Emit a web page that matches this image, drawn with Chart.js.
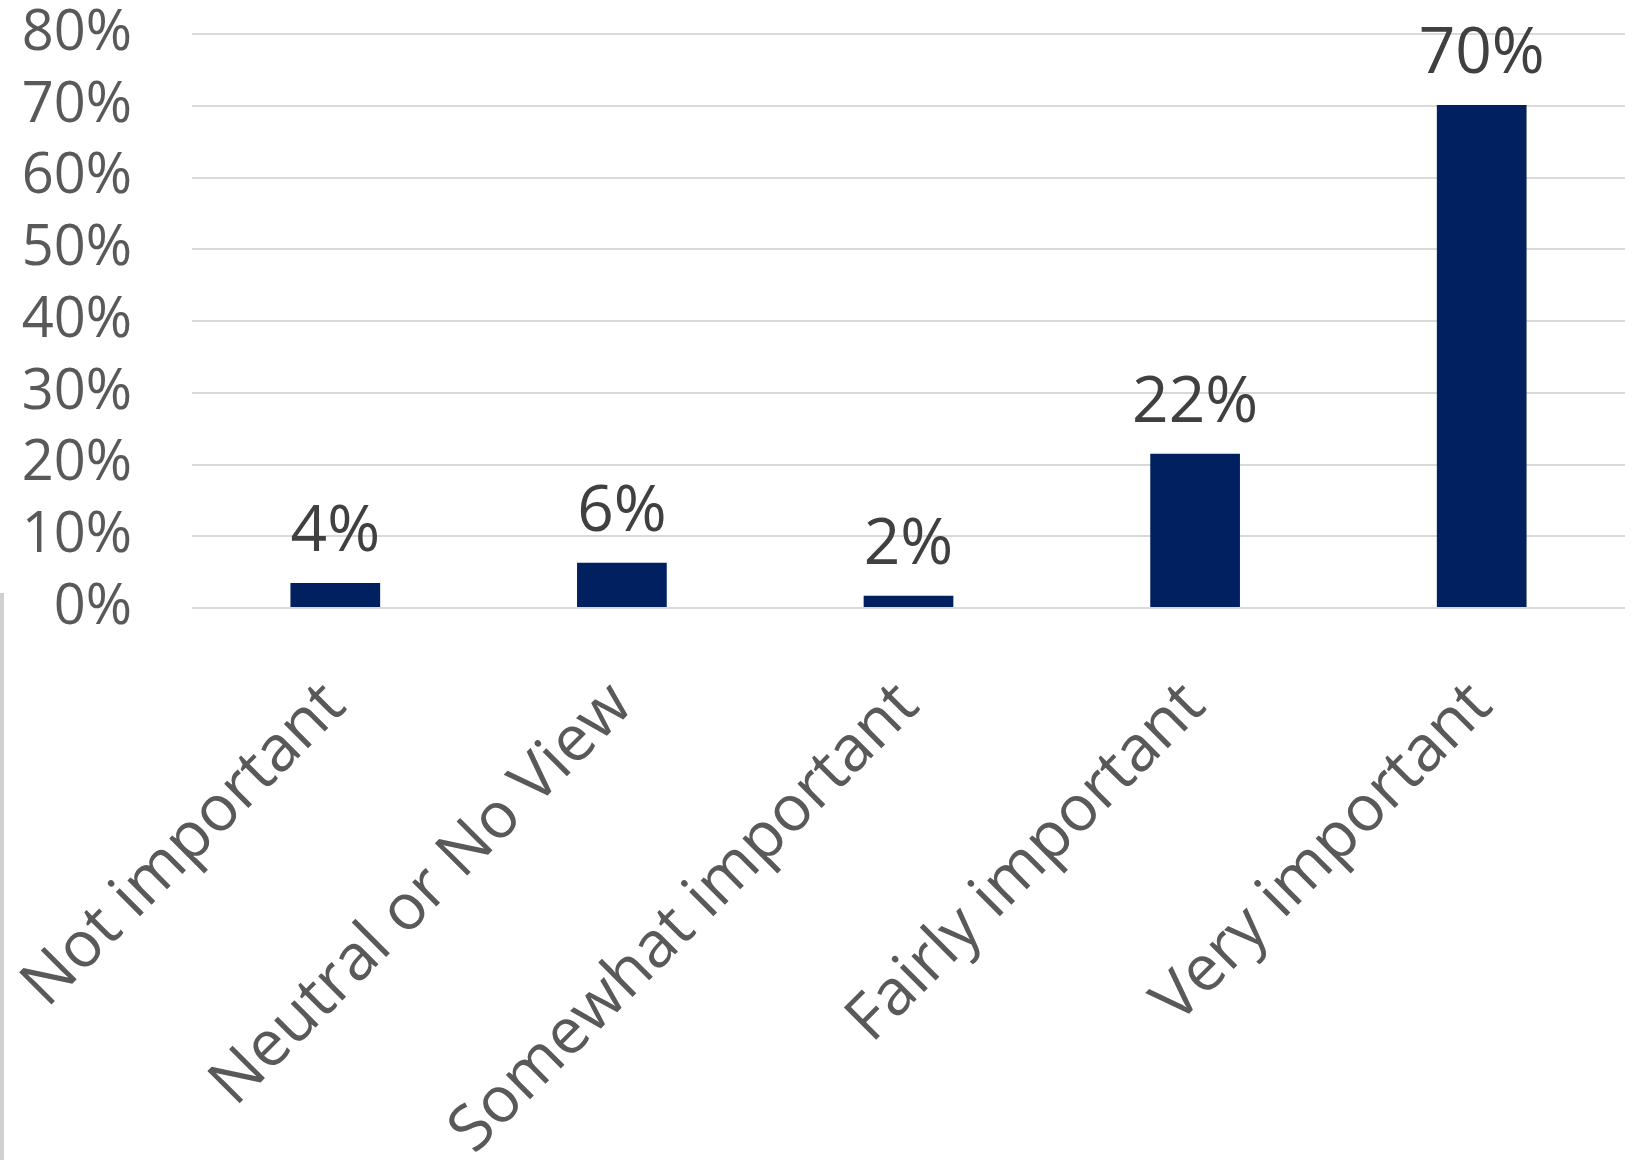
<!DOCTYPE html>
<html>
<head>
<meta charset="utf-8">
<script src="https://cdn.jsdelivr.net/npm/chart.js@4/dist/chart.umd.min.js"></script>
<style>
  html, body { margin: 0; padding: 0; background: #fff; }
  #wrap { position: relative; width: 1637px; height: 1160px; }
  #edge { position: absolute; left: 0; top: 593px; width: 4px; height: 567px; background: #d0d0d0; }
</style>
</head>
<body>
<div id="wrap">
  <canvas id="importanceChart" width="1637" height="1160"></canvas>
  <div id="edge"></div>
</div>
<script>
const categories = ["Not important", "Neutral or No View", "Somewhat important", "Fairly important", "Very important"];
const shares = [3.5, 6.3, 1.7, 21.5, 70.1];
const shareLabels = ["4%", "6%", "2%", "22%", "70%"];
const yTicks = [0, 10, 20, 30, 40, 50, 60, 70, 80];

const FONT = "'Open Sans', 'Liberation Sans', sans-serif";

// draws the percentage above each bar
const barLabels = {
  id: "barLabels",
  afterDatasetsDraw(chart) {
    const ctx = chart.ctx;
    const meta = chart.getDatasetMeta(0);
    ctx.save();
    ctx.font = "64px " + FONT;
    ctx.fillStyle = "#404040";
    ctx.textAlign = "center";
    ctx.textBaseline = "bottom";
    meta.data.forEach((bar, i) => {
      ctx.fillText(shareLabels[i], bar.x, bar.y - 18);
    });
    ctx.restore();
  },
};

const ctx = document.getElementById("importanceChart").getContext("2d");
new Chart(ctx, {
  type: "bar",
  data: {
    labels: categories,
    datasets: [
      {
        data: shares,
        backgroundColor: "#002060",
        categoryPercentage: 1,
        barPercentage: 0.313,
      },
    ],
  },
  options: {
    responsive: false,
    animation: false,
    layout: { padding: { top: 34, right: 12, left: 0, bottom: 0 } },
    plugins: { legend: { display: false }, tooltip: { enabled: false } },
    scales: {
      x: {
        grid: { display: false },
        border: { display: false },
        ticks: {
          color: "#595959",
          font: { family: FONT, size: 64 },
          minRotation: 45,
          maxRotation: 45,
          autoSkip: false,
          padding: 52,
        },
        afterFit: (scale) => {
          scale.height = 552;
          scale.paddingLeft = 0;
          scale.paddingRight = 0;
        },
      },
      y: {
        min: 0,
        max: 80,
        afterBuildTicks: (scale) => { scale.ticks = yTicks.map((v) => ({ value: v })); },
        grid: { color: "#d9d9d9", lineWidth: 2, drawTicks: false },
        border: { display: false },
        ticks: {
          color: "#595959",
          font: { family: FONT, size: 56 },
          padding: 60,
          autoSkip: false,
          callback: (v) => v + "%",
        },
        afterFit: (scale) => {
          scale.width = 192;
          scale.paddingTop = 0;
          scale.paddingBottom = 0;
        },
      },
    },
  },
  plugins: [barLabels],
});
</script>
</body>
</html>
